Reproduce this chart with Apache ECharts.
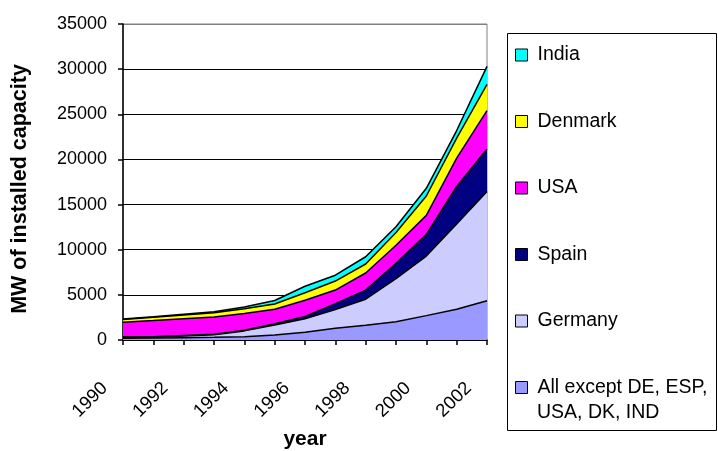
<!DOCTYPE html>
<html>
<head>
<meta charset="utf-8">
<script src="https://cdn.jsdelivr.net/npm/echarts@6/dist/echarts.min.js"></script>
<style>html,body{margin:0;padding:0;background:#fff}#c{width:718px;height:451px}</style>
</head>
<body>
<div id="c"></div>
<script>
var years = ['1990','1991','1992','1993','1994','1995','1996','1997','1998','1999','2000','2001','2002'];
var allExcept = [200, 220, 260, 300, 370, 550, 870, 1290, 1630, 2030, 2700, 3400, 4350];
var germany   = [100, 110, 180, 280, 640, 1100, 1480, 2090, 2890, 4770, 6600, 9450, 12100];
var spain     = [20, 20, 50, 60, 75, 150, 250, 650, 1000, 1700, 2400, 4150, 4700];
var usa       = [1650, 1800, 1850, 1900, 1850, 1600, 1800, 1500, 1900, 2000, 2100, 3150, 4250];
var denmark   = [300, 380, 430, 480, 520, 580, 830, 1000, 1000, 1400, 2150, 2200, 2900];
var india     = [50, 50, 80, 100, 200, 400, 720, 650, 800, 650, 850, 850, 2000];
var yTicks = [0, 5000, 10000, 15000, 20000, 25000, 30000, 35000];

var allName = 'All except DE, ESP, USA, DK, IND';
var FONT = '"Liberation Sans", Arial, sans-serif';

function mk(name, data, color) {
  return {
    name: name, type: 'line', stack: 'total', data: data,
    color: color, symbol: 'none', smooth: false,
    lineStyle: { color: '#000', width: 1.5 },
    areaStyle: { color: color, opacity: 1 },
    itemStyle: { color: color },
    emphasis: { disabled: true }
  };
}

var chart = echarts.init(document.getElementById('c'), null, { renderer: 'canvas' });
chart.setOption({
  animation: false,
  backgroundColor: '#fff',
  textStyle: { fontFamily: FONT },
  grid: { left: 123, right: 231, top: 24, bottom: 111, containLabel: false, outerBoundsMode: 'none',
    show: true, borderColor: '#808080', borderWidth: 1, backgroundColor: 'transparent' },
  xAxis: {
    type: 'category', data: years, boundaryGap: false,
    name: 'year', nameLocation: 'middle', nameGap: 89,
    nameTextStyle: { fontFamily: FONT, fontSize: 21, fontWeight: 'bold', color: '#000' },
    axisLine: { lineStyle: { color: '#000', width: 1.5 } },
    axisTick: { show: true, interval: 0, length: 5, lineStyle: { color: '#000', width: 1.5 } },
    axisLabel: { interval: 1, rotate: 45, margin: 27, padding: [0, 26, 0, 0], fontFamily: FONT, fontSize: 18.5, color: '#000' },
    splitLine: { show: false }
  },
  yAxis: {
    type: 'value', min: 0, max: 35000, interval: 5000,
    name: 'MW of installed capacity', nameLocation: 'middle', nameGap: 92,
    nameTextStyle: { fontFamily: FONT, fontSize: 21.5, fontWeight: 'bold', color: '#000', padding: [0, 14, 0, 0] },
    axisLine: { show: true, lineStyle: { color: '#000', width: 1.5 } },
    axisTick: { show: true, length: 5, lineStyle: { color: '#000', width: 1.5 } },
    axisLabel: { margin: 16, fontFamily: FONT, fontSize: 18, color: '#000',
      formatter: function (v) { return yTicks.indexOf(v) >= 0 ? String(v) : ''; } },
    splitLine: { show: true, lineStyle: { color: ['#000','#000','#000','#000','#000','#000','#000','#808080'], width: 1.2 } }
  },
  legend: {
    orient: 'vertical', left: 515, top: 45, padding: 0,
    itemWidth: 12, itemHeight: 12, itemGap: 46.5, icon: 'rect',
    data: ['India', 'Denmark', 'USA', 'Spain', 'Germany', allName],
    itemStyle: { borderColor: '#000', borderWidth: 1 },
    textStyle: { fontFamily: FONT, fontSize: 19.5, color: '#000', lineHeight: 20, padding: [0, 0, 0, 5] },
    formatter: function (n) { return n === allName ? 'All except DE, ESP,' : n; },
    selectedMode: false
  },
  graphic: [
    { type: 'rect', shape: { x: 507.5, y: 33.5, width: 209, height: 397 }, style: { fill: 'none', stroke: '#000', lineWidth: 1 }, silent: true },
    { type: 'text', left: 537, top: 403, style: { text: 'USA, DK, IND', font: '19.5px ' + FONT, fill: '#000' }, silent: true }
  ],
  series: [
    mk(allName, allExcept, '#9999FF'),
    mk('Germany', germany, '#CCCCFF'),
    mk('Spain', spain, '#000080'),
    mk('USA', usa, '#FF00FF'),
    mk('Denmark', denmark, '#FFFF00'),
    mk('India', india, '#00FFFF')
  ]
});
</script>
</body>
</html>
